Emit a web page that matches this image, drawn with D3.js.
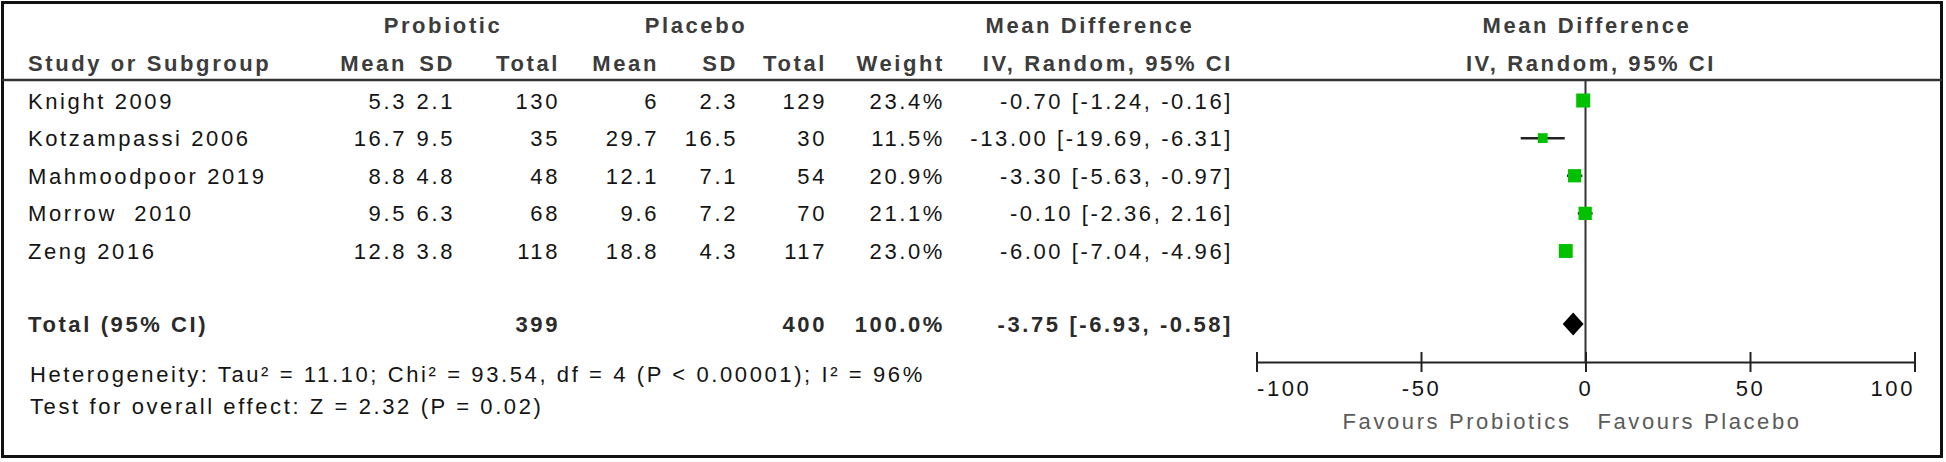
<!DOCTYPE html>
<html>
<head>
<meta charset="utf-8">
<script src="https://cdn.jsdelivr.net/npm/d3@7"></script>
<style>
    html, body { margin: 0; padding: 0; background: #fff; }
    svg text { font-family: "Liberation Sans", Arial, sans-serif; font-size: 22px; letter-spacing: 2.6px; fill: #141414; white-space: pre; }
    svg text.head { font-weight: bold; fill: #3c3c3c; }
    svg text.bold { font-weight: bold; fill: #2a2a2a; }
    svg text.fav { fill: #5a5a5a; }
</style>
</head>
<body>
<div id="chart"></div>
<script>
// Study rows
var studies = ["Knight 2009", "Kotzampassi 2006", "Mahmoodpoor 2019", "Morrow  2010", "Zeng 2016"];
var probMean = [5.3, 16.7, 8.8, 9.5, 12.8];
var probSD = [2.1, 9.5, 4.8, 6.3, 3.8];
var probN = [130, 35, 48, 68, 118];
var placMean = [6, 29.7, 12.1, 9.6, 18.8];
var placSD = [2.3, 16.5, 7.1, 7.2, 4.3];
var placN = [129, 30, 54, 70, 117];
var weights = [23.4, 11.5, 20.9, 21.1, 23.0];
var md = [-0.70, -13.00, -3.30, -0.10, -6.00];
var ciLow = [-1.24, -19.69, -5.63, -2.36, -7.04];
var ciHigh = [-0.16, -6.31, -0.97, 2.16, -4.96];

// Pooled result
var totalProbN = 399;
var totalPlacN = 400;
var totalMD = -3.75;
var totalLow = -6.93;
var totalHigh = -0.58;

var axisTicks = [-100, -50, 0, 50, 100];
var heterogeneityText = "Heterogeneity: Tau\u00b2 = 11.10; Chi\u00b2 = 93.54, df = 4 (P < 0.00001); I\u00b2 = 96%";
var overallText = "Test for overall effect: Z = 2.32 (P = 0.02)";

var W = 1946, H = 462;

var svg = d3.select("#chart").append("svg")
    .attr("width", W)
    .attr("height", H);

// column right edges (text-anchor end)
var col = {
    name: 28,
    pMean: 407, pSD: 455, pN: 560,
    cMean: 659, cSD: 738, cN: 827,
    weight: 945, ci: 1233
};

var rowY = d3.scaleLinear().domain([0, studies.length - 1]).range([100.5, 251]);
var totalY = 324;
var x = d3.scaleLinear().domain([-100, 100]).range([1256.5, 1914.5]);
var boxSize = d3.scaleSqrt().domain([0, 23.4]).range([0, 14]);
var f2 = d3.format(".2f");
// plain hyphen minus, like the original
var fmtMinus = function (v) { return f2(v).replace("\u2212", "-"); };
var ciLabel = function (m, lo, hi) { return fmtMinus(m) + " [" + fmtMinus(lo) + ", " + fmtMinus(hi) + "]"; };

function txt(g, str, xx, yy, anchor, cls) {
    return g.append("text")
        .attr("x", xx)
        .attr("y", yy)
        .attr("text-anchor", anchor || "start")
        .attr("class", cls || null)
        .text(str);
}

// Outer frame + header rule
svg.append("rect")
    .attr("x", 2.5).attr("y", 2.5)
    .attr("width", 1939).attr("height", 454)
    .attr("fill", "none").attr("stroke", "#111").attr("stroke-width", 3);
svg.append("line")
    .attr("x1", 2).attr("x2", 1942).attr("y1", 80).attr("y2", 80)
    .attr("stroke", "#333").attr("stroke-width", 2.5);

// HEADERS
var head = svg.append("g");
txt(head, "Probiotic", 443, 33, "middle", "head");
txt(head, "Placebo", 696, 33, "middle", "head");
txt(head, "Mean Difference", 1090, 33, "middle", "head");
txt(head, "Mean Difference", 1587, 33, "middle", "head");
txt(head, "Study or Subgroup", col.name, 71, "start", "head");
[["Mean", col.pMean], ["SD", col.pSD], ["Total", col.pN],
 ["Mean", col.cMean], ["SD", col.cSD], ["Total", col.cN],
 ["Weight", col.weight], ["IV, Random, 95% CI", col.ci]].forEach(function (h) {
    txt(head, h[0], h[1], 71, "end", "head");
});
txt(head, "IV, Random, 95% CI", 1591, 71, "middle", "head");

// STUDY ROWS
var rows = svg.append("g");
studies.forEach(function (s, i) {
    var y = rowY(i) + 8;
    txt(rows, s, col.name, y);
    txt(rows, probMean[i], col.pMean, y, "end");
    txt(rows, probSD[i], col.pSD, y, "end");
    txt(rows, probN[i], col.pN, y, "end");
    txt(rows, placMean[i], col.cMean, y, "end");
    txt(rows, placSD[i], col.cSD, y, "end");
    txt(rows, placN[i], col.cN, y, "end");
    txt(rows, weights[i].toFixed(1) + "%", col.weight, y, "end");
    txt(rows, ciLabel(md[i], ciLow[i], ciHigh[i]), col.ci, y, "end");
});

// Total row
var ty = totalY + 8;
txt(rows, "Total (95% CI)", col.name, ty, "start", "bold");
txt(rows, totalProbN, col.pN, ty, "end", "bold");
txt(rows, totalPlacN, col.cN, ty, "end", "bold");
txt(rows, "100.0%", col.weight, ty, "end", "bold");
txt(rows, ciLabel(totalMD, totalLow, totalHigh), col.ci, ty, "end", "bold");

// Footnotes
txt(rows, heterogeneityText, 30, 382);
txt(rows, overallText, 30, 414);

// PLOT
var plot = svg.append("g");
var axisY = 362;

// line of no effect
plot.append("line")
    .attr("x1", x(0)).attr("x2", x(0))
    .attr("y1", 81).attr("y2", axisY)
    .attr("stroke", "#333").attr("stroke-width", 2);

// confidence intervals
plot.selectAll("line.ci")
    .data(studies)
    .enter().append("line")
        .attr("class", "ci")
        .attr("x1", function (d, i) { return x(ciLow[i]); })
        .attr("x2", function (d, i) { return x(ciHigh[i]); })
        .attr("y1", function (d, i) { return rowY(i); })
        .attr("y2", function (d, i) { return rowY(i); })
        .attr("stroke", "#222").attr("stroke-width", 2.5);

// weight boxes
plot.selectAll("rect.box")
    .data(studies)
    .enter().append("rect")
        .attr("class", "box")
        .attr("x", function (d, i) { return x(md[i]) - boxSize(weights[i]) / 2; })
        .attr("y", function (d, i) { return rowY(i) - boxSize(weights[i]) / 2; })
        .attr("width", function (d, i) { return boxSize(weights[i]); })
        .attr("height", function (d, i) { return boxSize(weights[i]); })
        .attr("fill", "#00c000");

// pooled diamond
var dh = 11.5;
plot.append("path")
    .attr("d", "M" + x(totalLow) + "," + totalY +
               "L" + x(totalMD) + "," + (totalY - dh) +
               "L" + x(totalHigh) + "," + totalY +
               "L" + x(totalMD) + "," + (totalY + dh) + "Z")
    .attr("fill", "#000");

// x axis
var axis = plot.append("g")
    .attr("transform", "translate(0," + axisY + ")")
    .call(d3.axisBottom(x)
        .tickValues(axisTicks)
        .tickFormat(function (d) { return String(d); })
        .tickSize(10)
        .tickSizeOuter(0));
axis.attr("font-family", null).attr("font-size", null);
axis.select(".domain").attr("stroke", "#222").attr("stroke-width", 2.2);
axis.selectAll(".tick line").attr("y1", -10).attr("stroke", "#222").attr("stroke-width", 2);
axis.selectAll(".tick text")
    .attr("y", 18)
    .attr("fill", null)
    .attr("text-anchor", function (d, i) { return i === 0 ? "start" : (i === axisTicks.length - 1 ? "end" : "middle"); });

txt(plot, "Favours Probiotics", x(0) - 14, 429, "end", "fav");
txt(plot, "Favours Placebo", x(0) + 12, 429, "start", "fav");
</script>
</body>
</html>
